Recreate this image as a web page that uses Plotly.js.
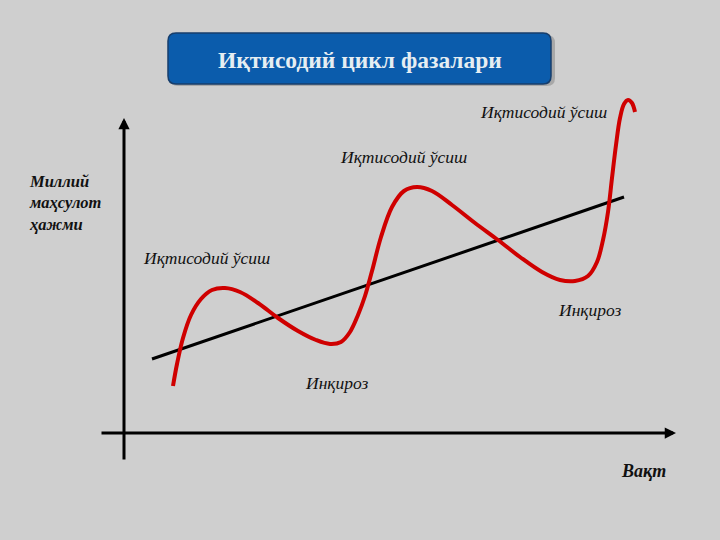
<!DOCTYPE html>
<html>
<head>
<meta charset="utf-8">
<script src="https://cdn.plot.ly/plotly-3.0.1.min.js"></script>
<style>html,body{margin:0;padding:0;background:#cfcfcf;}#chart{width:720px;height:540px;}</style>
</head>
<body>
<div id="chart"></div>
<script>
// Business cycle curve (pixel-space coordinates)
var cycleX = [173,177,183,191,201,212,225,240,258,278,298,316,330,341,350,358,365,372,381,392,404,417,432,452,475,498,520,542,560,575,588,597,603,608,612,616,620,624,628,632,635];
var cycleY = [386,364,338,315,299,290,288,292,303,318,331,340,344,342,332,315,296,271,237,207,191,187,191,205,223,240,257,272,280,281,276,262,240,212,178,145,118,104,100,103,112];
// Long-run trend line
var trendX = [152,624];
var trendY = [359,197];
// Texts
var titleText = "Иқтисодий цикл фазалари";
var growthLabel = "Иқтисодий ўсиш";
var crisisLabel = "Инқироз";
var yAxisLabel = "Миллий<br>маҳсулот<br>ҳажми";
var xAxisLabel = "Вақт";

var serif = "Liberation Serif, Times New Roman, serif";

var traces = [
  {x: trendX, y: trendY, mode: "lines", line: {color: "#000000", width: 3}, hoverinfo: "skip"},
  {x: cycleX, y: cycleY, mode: "lines", line: {color: "#cf0000", width: 4, shape: "spline", smoothing: 1}, hoverinfo: "skip"}
];

function lbl(text, x, y, opts) {
  var a = {text: text, x: x, y: y, xref: "x", yref: "y", showarrow: false,
    font: {family: serif, size: 17.5, color: "#111111", style: "italic"}, xanchor: "left", yanchor: "middle", align: "left"};
  for (var k in opts) a[k] = opts[k];
  return a;
}

var annotations = [
  // axes arrows
  {x: 676, y: 433, ax: 100, ay: 433, xref: "x", yref: "y", axref: "x", ayref: "y", showarrow: true, arrowhead: 2, arrowsize: 0.75, arrowwidth: 3, arrowcolor: "#000", text: ""},
  {x: 124, y: 118, ax: 124, ay: 461, xref: "x", yref: "y", axref: "x", ayref: "y", showarrow: true, arrowhead: 2, arrowsize: 0.75, arrowwidth: 3, arrowcolor: "#000", text: ""},
  // title
  {text: "<b>" + titleText + "</b>", x: 360, y: 60, xref: "x", yref: "y", showarrow: false,
   font: {family: serif, size: 23.5, color: "#e6eef2"}, xanchor: "center", yanchor: "middle"},
  lbl(growthLabel, 141, 258),
  lbl(growthLabel, 338, 157),
  lbl(growthLabel, 478, 112),
  lbl(crisisLabel, 303, 383),
  lbl(crisisLabel, 556, 310),
  lbl("<b>" + yAxisLabel + "</b>", 27, 203, {font: {family: serif, size: 16.5, color: "#111", style: "italic"}}),
  lbl("<b>" + xAxisLabel + "</b>", 619, 471, {font: {family: serif, size: 18, color: "#111", style: "italic"}})
];

var shapes = [
  {type: "path", xref: "x", yref: "y",
   path: "M 178,35 L 547,35 Q 555,35 555,43 L 555,78 Q 555,86 547,86 L 178,86 Q 170,86 170,78 L 170,43 Q 170,35 178,35 Z",
   fillcolor: "rgba(80,80,80,0.3)", line: {width: 0}},
  {type: "path", xref: "x", yref: "y",
   path: "M 176,33 L 543,33 Q 551,33 551,41 L 551,76 Q 551,84 543,84 L 176,84 Q 168,84 168,76 L 168,41 Q 168,33 176,33 Z",
   fillcolor: "#0b5cac", line: {color: "#173e6c", width: 1.5}}
];

var layout = {
  width: 720, height: 540,
  margin: {l: 0, r: 0, t: 0, b: 0},
  paper_bgcolor: "#cfcfcf", plot_bgcolor: "#cfcfcf",
  showlegend: false,
  xaxis: {range: [0, 720], visible: false, fixedrange: true},
  yaxis: {range: [540, 0], visible: false, fixedrange: true},
  annotations: annotations,
  shapes: shapes
};

Plotly.newPlot("chart", traces, layout, {displayModeBar: false, staticPlot: true});
</script>
</body>
</html>
